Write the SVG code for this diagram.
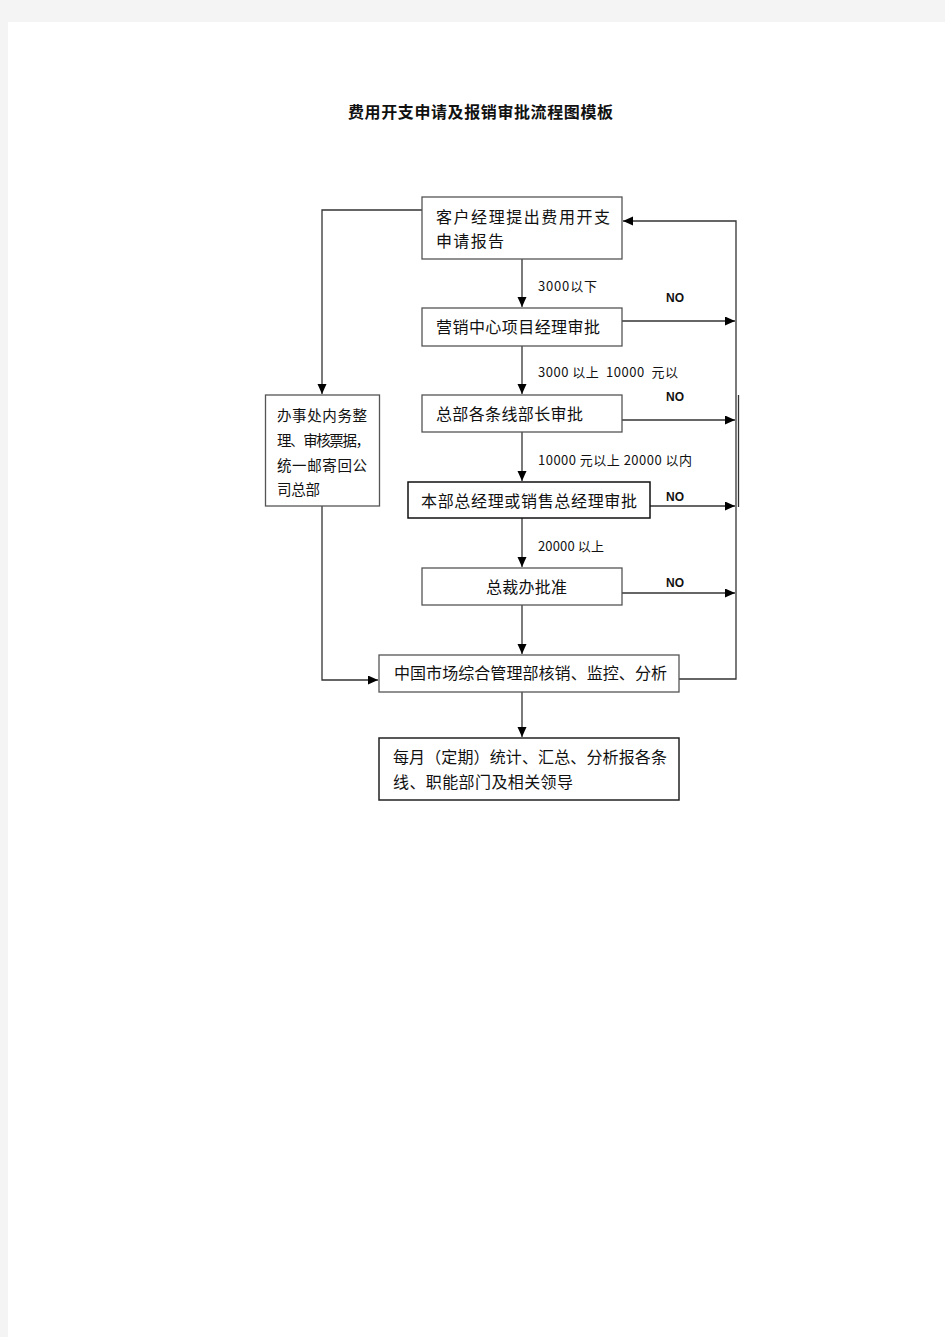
<svg xmlns="http://www.w3.org/2000/svg" width="945" height="1337" viewBox="0 0 945 1337">
<style>
.box{fill:#fff;stroke:#555;stroke-width:1.3}
.t{font-family:"Noto Sans CJK SC","Liberation Sans",sans-serif;font-size:16px;fill:#111}
.s{font-family:"Noto Sans CJK SC","Liberation Sans",sans-serif;font-size:14.5px;fill:#111}
.lb{font-family:"Noto Sans CJK SC","Liberation Sans",sans-serif;font-size:13px;fill:#111}
.no{font-family:"Liberation Sans",Arial,sans-serif;font-size:12px;font-weight:bold;fill:#111}
.ln{fill:none;stroke:#333;stroke-width:1.3}
</style>
<defs>
<marker id="ah" markerUnits="userSpaceOnUse" markerWidth="11" markerHeight="10" refX="10" refY="4.5" orient="auto">
<path d="M0,0 L10,4.5 L0,9 z" fill="#000"/>
</marker>
</defs>
<rect x="0" y="0" width="945" height="1337" fill="#f4f4f4"/>
<rect x="8" y="22" width="937" height="1315" fill="#fff"/>
<text x="348" y="117.5" textLength="265" lengthAdjust="spacing" font-family="Noto Sans CJK SC, sans-serif" font-size="16" font-weight="bold" fill="#111">费用开支申请及报销审批流程图模板</text>

<g id="connectors">
<path class="ln" d="M522,259 V307" marker-end="url(#ah)"/>
<path class="ln" d="M522,346 V394" marker-end="url(#ah)"/>
<path class="ln" d="M522,432 V481" marker-end="url(#ah)"/>
<path class="ln" d="M522,518 V567" marker-end="url(#ah)"/>
<path class="ln" d="M522,605 V654" marker-end="url(#ah)"/>
<path class="ln" d="M522,692 V737" marker-end="url(#ah)"/>
<path class="ln" d="M622,321 H735" marker-end="url(#ah)"/>
<path class="ln" d="M622,420 H735" marker-end="url(#ah)"/>
<path class="ln" d="M650,506 H735" marker-end="url(#ah)"/>
<path class="ln" d="M622,593 H735" marker-end="url(#ah)"/>
<path class="ln" d="M679,679 H736 V221 H623" marker-end="url(#ah)"/>
<path class="ln" d="M738.5,395 V507"/>
<path class="ln" d="M422,210 H322 V394" marker-end="url(#ah)"/>
<path class="ln" d="M322,506 V680 H378" marker-end="url(#ah)"/>
<text class="lb" x="538" y="290.5" textLength="59" lengthAdjust="spacing">3000以下</text>
<text class="lb" x="538" y="376.5" textLength="140" lengthAdjust="spacing" xml:space="preserve">3000 以上  10000  元以</text>
<text class="lb" x="538" y="464.5" textLength="154" lengthAdjust="spacing">10000 元以上 20000 以内</text>
<text class="lb" x="538" y="550.5" textLength="66" lengthAdjust="spacing">20000 以上</text>
<text class="no" x="666" y="301.5">NO</text>
<text class="no" x="666" y="401">NO</text>
<text class="no" x="666" y="501">NO</text>
<text class="no" x="666" y="587">NO</text>
</g>

<g id="n1">
<rect class="box" x="422" y="197" width="200" height="62"/>
<text class="t" x="436" y="222.5" textLength="174" lengthAdjust="spacing">客户经理提出费用开支</text>
<text class="t" x="436" y="246.5" textLength="68" lengthAdjust="spacing">申请报告</text>
</g>
<g id="n2">
<rect class="box" x="422" y="308" width="200" height="38"/>
<text class="t" x="436" y="333" textLength="164" lengthAdjust="spacing">营销中心项目经理审批</text>
</g>
<g id="n3">
<rect class="box" x="422" y="395" width="200" height="37"/>
<text class="t" x="436" y="420" textLength="147" lengthAdjust="spacing">总部各条线部长审批</text>
</g>
<g id="n4">
<rect x="408" y="482" width="242" height="36" fill="#fff" stroke="#111" stroke-width="1.5"/>
<text class="t" x="421" y="506.5" textLength="216" lengthAdjust="spacing">本部总经理或销售总经理审批</text>
</g>
<g id="n5">
<rect class="box" x="422" y="568" width="200" height="37"/>
<text class="t" x="486" y="592.5" textLength="81" lengthAdjust="spacing">总裁办批准</text>
</g>
<g id="n6">
<rect class="box" x="379" y="655" width="300" height="37"/>
<text class="t" x="394" y="679" textLength="273" lengthAdjust="spacing">中国市场综合管理部核销、监控、分析</text>
</g>
<g id="n7">
<rect x="379" y="738" width="300" height="62" fill="#fff" stroke="#222" stroke-width="1.5"/>
<text class="t" x="393" y="762.5" textLength="274" lengthAdjust="spacing">每月（定期）统计、汇总、分析报各条</text>
<text class="t" x="393" y="787.5" textLength="180" lengthAdjust="spacing">线、职能部门及相关领导</text>
</g>
<g id="n8">
<rect class="box" x="265.5" y="395" width="114" height="111"/>
<text class="s" x="277" y="420.5" textLength="90" lengthAdjust="spacing">办事处内务整</text>
<text class="s" x="277" y="445.5" textLength="93" lengthAdjust="spacing">理、审核票据，</text>
<text class="s" x="277" y="470.5" textLength="90" lengthAdjust="spacing">统一邮寄回公</text>
<text class="s" x="277" y="494.5" textLength="43" lengthAdjust="spacing">司总部</text>
</g>
</svg>
